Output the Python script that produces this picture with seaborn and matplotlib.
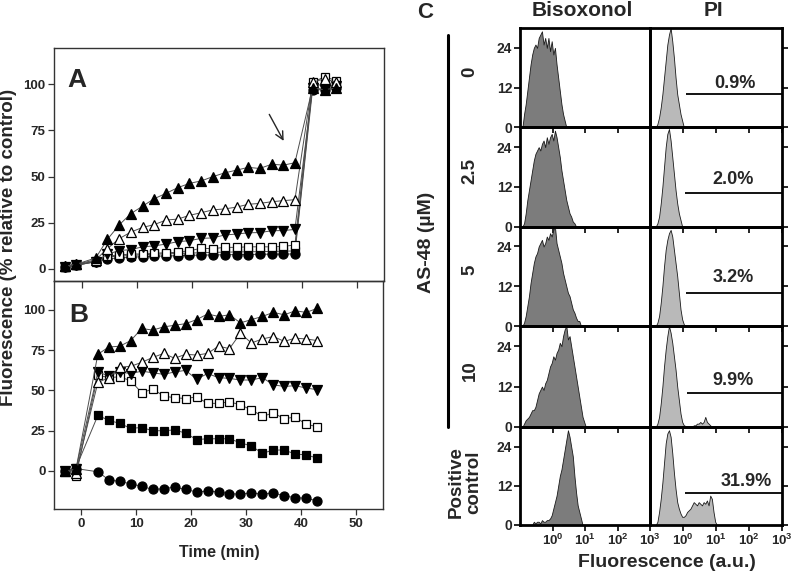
import numpy as np
import pandas as pd
import matplotlib
matplotlib.use("Agg")
import matplotlib.pyplot as plt
import seaborn as sns

# ---------------- Panel A data (time in min, % relative to control) ----------------
time_a = [-3, -1, 2.6, 4.7, 6.9, 9.0, 11.1, 13.2, 15.4, 17.5, 19.6, 21.8, 23.9, 26.0,
          28.2, 30.3, 32.4, 34.6, 36.7, 38.8, 42.0, 44.2, 46.3]
a_circle = [1, 2, 4, 5.5, 6, 6.3, 6.7, 7, 7, 7.2, 7.4, 7.5, 7.6, 7.7, 7.8, 7.8, 8, 8, 8, 8.2, 97, 97, 98]
a_square_f = [1.2, 2.2, 4.5, 6.5, 7, 7.3, 7.7, 8, 8.2, 8.4, 8.6, 8.8, 9, 9.1, 9.2, 9.3, 9.4, 9.5, 9.6, 9.8, 99, 100, 99]
a_square_o = [1, 2, 4, 7, 7.6, 8.1, 8.1, 8.5, 8.8, 9, 9.9, 11.2, 11, 11.7, 11.7, 12, 12, 12, 12.2, 13, 101, 104, 102]
a_tri_down = [1, 2, 4, 8, 10, 10.5, 12, 12.5, 13.5, 14.8, 15.3, 16.6, 16.8, 18.4, 18.9, 19.6, 19.7, 20.7, 20.8, 21.4, 98, 97, 99]
a_tri_open = [1.5, 2.5, 5, 11, 16.5, 20, 22.5, 24, 26.5, 27, 29, 30.5, 32, 32.5, 33.5, 35, 35.5, 36.4, 37, 37.5, 101, 103, 101]
a_tri_up = [1.5, 2.5, 6, 16, 24, 30, 34, 38, 41, 44, 46.3, 47.7, 50, 52, 53.5, 55, 54.4, 56.7, 56.2, 57.5, 98, 97, 98]

# ---------------- Panel B data ----------------
time_b = [-3, -1, 3, 5, 7, 9, 11, 13, 15, 17, 19, 21, 23, 25, 27, 29, 31, 33, 35, 37, 39, 41, 43]
b_tri_up = [0, 1, 72.5, 77, 77.5, 81, 88.5, 87.5, 89.5, 90.5, 91.5, 94, 97.5, 96, 97, 92, 94, 96, 98.5, 97, 99.5, 98.5, 101]
b_tri_open = [0, -1, 55, 58, 64.5, 65, 67.5, 70.5, 73, 70, 72.5, 72, 73, 77.5, 76, 85.5, 79.5, 82, 83.5, 80.5, 82.5, 82, 81]
b_tri_down = [0, 1, 61.5, 59, 61.5, 60.5, 62, 61, 60, 61.5, 62.5, 57, 60.5, 58, 57.5, 56.5, 56.5, 58, 53.5, 52.5, 53, 51.5, 50.5]
b_square_o = [0, -3, 59.5, 58, 58.5, 56, 48.5, 51, 46.5, 45.5, 45, 46, 42, 42, 43, 41, 38, 34, 36, 32.5, 33.5, 29, 27.5]
b_square_f = [0, 2, 34.5, 31.5, 29.5, 26.5, 27, 25, 25, 25.5, 23.5, 19.5, 20, 20, 20, 17.5, 15.5, 11, 13, 13, 10.5, 10, 8]
b_circle = [0, 1.5, -0.5, -5.5, -6.5, -8, -9.5, -11.5, -11, -10, -11.5, -13, -12.5, -13, -14, -14.5, -13.5,
            -14.5, -13.5, -15.5, -16.5, -17, -18.5]

# ---------------- Panel C data (flow cytometry histograms, log10 channels, 0.05-decade bins) ----------------
bin_step = 0.05
row_labels = ["0", "2.5", "5", "10", "Positive\ncontrol"]
pi_percent = ["0.9%", "2.0%", "3.2%", "9.9%", "31.9%"]
biso_start = [-0.95, -0.95, -0.95, -0.95, -0.65]
biso_counts = [
    [0, 4, 7, 11, 15, 19, 22, 24, 25, 24, 27, 28, 29, 25, 27, 24, 27, 23, 26, 22, 24, 19, 15, 11, 7, 4, 2, 0],
    [0, 1, 4, 8, 11, 14, 17, 20, 22, 23, 24, 23, 25, 26, 24, 27, 25, 27, 28, 26, 29, 27, 24, 21, 17, 14, 11, 8,
     6, 4, 3, 1.5, 1, 0],
    [0, 1, 3, 6, 9, 13, 16, 19, 21, 22, 24, 25, 26, 24, 25, 27, 26, 28, 27, 29, 30, 25, 23, 21, 19, 16, 14, 12,
     10, 9, 7, 5, 4, 2.5, 1.5, 1.5, 0],
    [0, 1, 2, 2.5, 3, 4, 5, 5, 6, 8, 10, 11, 12, 11, 13, 14, 16, 18, 19, 21, 20, 22, 23, 25, 24, 27, 29, 30, 26,
     27, 24, 21, 18, 15, 12, 9, 6, 3, 1.5, 0],
    [0, 1, 0.5, 1, 1, 0.5, 1.5, 1, 1, 1.5, 1.5, 2, 3, 5, 7, 9, 12, 15, 17, 20, 23, 26, 29, 27, 24, 21, 15, 10, 6,
     4, 2, 0],
]
pi_start = [-0.85, -0.85, -0.85, -0.85, -0.85]
pi_counts = [
    [0, 1, 3, 6, 10, 15, 20, 25, 28, 30, 26, 21, 15, 10, 7, 4, 2, 0],
    [0, 1, 3, 7, 12, 18, 24, 28, 29.5, 26, 21, 16, 11, 7, 4, 2, 0],
    [0, 1, 3, 7, 12, 18, 23, 26, 28, 29, 27, 23, 19, 15, 10, 5, 2, 0.5, 0],
    [0, 1, 3, 7, 12, 18, 23, 27, 30, 28, 25, 21, 17, 12, 8, 4, 1.5, 0.5, 0.3, 0.2, 0, 0, 0, 0.5, 0.5, 1, 1, 1.5,
     1, 1.5, 3, 1.5, 1, 0.5, 0],
    [0, 1, 4, 8, 13, 19, 25, 28, 29, 27, 22, 16, 11, 7, 5, 3.5, 2.5, 2.5, 3, 4, 4.5, 5, 6, 7, 6.5, 6, 7, 6.5, 6,
     7, 6.5, 7.5, 6, 9, 8, 4, 1, 0],
]
gate_start = [0.10, 0.05, 0.10, 0.11, 0.05]
gate_level = [10, 10.3, 10, 10.2, 9.7]
pct_pos = [(1.58, 13.2), (1.51, 14.3), (1.51, 14.5), (1.51, 13.8), (1.92, 13.4)]

# ---------------- style ----------------
sns.set_theme(style="white")
plt.rcParams["font.family"] = ["Liberation Sans", "DejaVu Sans"]
plt.rcParams["font.weight"] = "bold"
plt.rcParams["mathtext.fontset"] = "custom"
plt.rcParams["mathtext.bf"] = "Liberation Sans:bold"
plt.rcParams["mathtext.rm"] = "Liberation Sans:bold"

W, H = 800, 574
fig = plt.figure(figsize=(8, 5.74), dpi=100)


def box(x0, y0, x1, y1):
    return [x0 / W, 1 - y1 / H, (x1 - x0) / W, (y1 - y0) / H]


def fxy(x, y):
    return x / W, 1 - y / H


# ---------------- Panels A and B ----------------
axA = fig.add_axes(box(54, 48, 384, 281))
axB = fig.add_axes(box(54, 281, 383, 509.3))

series_style = [
    ("o", "black", 6.5),
    ("s", "black", 6),
    ("s", "white", 6),
    ("v", "black", 7.5),
    ("^", "white", 7.5),
    ("^", "black", 7.5),
]
a_series = [a_circle, a_square_f, a_square_o, a_tri_down, a_tri_open, a_tri_up]
b_series = [b_circle, b_square_f, b_square_o, b_tri_down, b_tri_open, b_tri_up]

for ax, tt, allser in [(axA, time_a, a_series), (axB, time_b, b_series)]:
    for k, (vals, (mk, fc, ms)) in enumerate(zip(allser, series_style)):
        df = pd.DataFrame({"t": tt, "v": vals})
        sns.lineplot(data=df, x="t", y="v", ax=ax, sort=False, color="0.3", linewidth=0.7,
                     marker=mk, markersize=ms, markerfacecolor=fc, markeredgecolor="black",
                     markeredgewidth=0.9, zorder=3 + k)
    ax.set_xlim(-5, 55)
    ax.set_xticks([0, 10, 20, 30, 40, 50])
    ax.set_yticks([0, 25, 50, 75, 100])
    for s in ax.spines.values():
        s.set_color("0.2")
        s.set_linewidth(1.0)
    ax.tick_params(axis="both", which="both", direction="out", length=4, width=0.9,
                   color="0.2", labelsize=9.5, pad=2, left=True, bottom=True)
    for lab in ax.get_yticklabels() + ax.get_xticklabels():
        lab.set_fontweight("bold")
        lab.set_color("0.15")
    ax.set_xlabel("")
    ax.set_ylabel("")

axA.set_ylim(-6.5, 119.6)
axB.set_ylim(-23.8, 118)
axA.tick_params(axis="x", labelbottom=False, length=5)
axA.set_facecolor("none")
axA.set_zorder(2)

axA.text(0.07, 0.862, "A", transform=axA.transAxes, fontsize=19, fontweight="bold",
         ha="center", va="center")
axB.text(0.074, 0.851, "B", transform=axB.transAxes, fontsize=19, fontweight="bold",
         ha="center", va="center")
axA.annotate("", xy=(37, 68), xytext=(33.9, 85),
             arrowprops=dict(arrowstyle="->", lw=1.0, color="0.15", mutation_scale=14))

fig.text(*fxy(9, 247), "Fluorescence (% relative to control)", rotation=90, fontsize=13.5,
         fontweight="bold", ha="center", va="center")
fig.text(*fxy(219, 553), "Time (min)", fontsize=11.5, fontweight="bold", ha="center", va="center")

# ---------------- Panel C ----------------
row_tops = [28, 127.3, 226.6, 326, 427]
row_bots = [127.3, 226.6, 326, 427, 525]
col_x = [(520, 650), (650, 782)]
tick_lbls = [r"$\mathbf{10^{0}}$", r"$\mathbf{10^{1}}$", r"$\mathbf{10^{2}}$", r"$\mathbf{10^{3}}$"]

for r in range(5):
    for c in range(2):
        x0, x1 = col_x[c]
        ax = fig.add_axes(box(x0, row_tops[r], x1, row_bots[r]))
        ax.set_facecolor("none")
        if c == 0:
            start, counts, color = biso_start[r], biso_counts[r], "#7c7c7c"
        else:
            start, counts, color = pi_start[r], pi_counts[r], "#b9b9b9"
        counts = np.asarray(counts, dtype=float)
        edges = [float(start + bin_step * i) for i in range(len(counts) + 1)]
        centers = [0.5 * (edges[i] + edges[i + 1]) for i in range(len(counts))]
        hdf = pd.DataFrame({"chan": centers, "cnt": counts})
        sns.histplot(data=hdf, x="chan", weights="cnt", bins=edges, element="poly", fill=True,
                     color=color, alpha=1, edgecolor="0.1", linewidth=0.6, ax=ax)
        if c == 1:
            ax.hlines(gate_level[r], gate_start[r], 3.0, color="black", lw=1.3)
            px, py = pct_pos[r]
            ax.text(px, py, pi_percent[r], fontsize=13, fontweight="bold", ha="center", va="center")
        ax.set_xlim(-1, 3)
        ax.set_ylim(0, 30)
        ax.set_xticks([0, 1, 2, 3])
        ax.set_yticks([0, 12, 24])
        ax.set_xlabel("")
        ax.set_ylabel("")
        for s in ax.spines.values():
            s.set_color("black")
            s.set_linewidth(2.0)
        ax.tick_params(axis="both", direction="out", length=4, width=1.2, color="black",
                       labelsize=10, pad=1.5, bottom=True)
        if c == 0:
            ax.tick_params(axis="y", left=True, right=False, labelleft=True)
        else:
            ax.tick_params(axis="y", left=False, right=True, labelleft=False, labelright=False)
        if r == 4:
            ax.set_xticklabels(tick_lbls, fontsize=9.5)
            ax.tick_params(axis="x", labelbottom=True)
        else:
            ax.tick_params(axis="x", labelbottom=False)
        for lab in ax.get_yticklabels():
            lab.set_fontweight("bold")

    ymid = 0.5 * (row_tops[r] + row_bots[r])
    fig.text(*fxy(470 if r < 4 else 465, ymid - (6 if r < 4 else -6)), row_labels[r], rotation=90,
             fontsize=13.5, fontweight="bold", ha="center", va="center", linespacing=1.0)

fig.text(*fxy(425, 13), "C", fontsize=16, fontweight="bold", ha="center", va="center")
fig.text(*fxy(582.5, 11), "Bisoxonol", fontsize=15, fontweight="bold", ha="center", va="center")
fig.text(*fxy(713.3, 11), "PI", fontsize=15, fontweight="bold", ha="center", va="center")
fig.text(*fxy(427, 242), "AS-48 (\u00b5M)", rotation=90, fontsize=14, fontweight="bold",
         ha="center", va="center")
fig.text(*fxy(666.7, 562.7), "Fluorescence (a.u.)", fontsize=14, fontweight="bold",
         ha="center", va="center")
fig.add_artist(plt.Line2D([448 / W, 448 / W], [1 - 35 / H, 1 - 427 / H], color="black", lw=2.2))

fig.savefig("out.png", dpi=100)
